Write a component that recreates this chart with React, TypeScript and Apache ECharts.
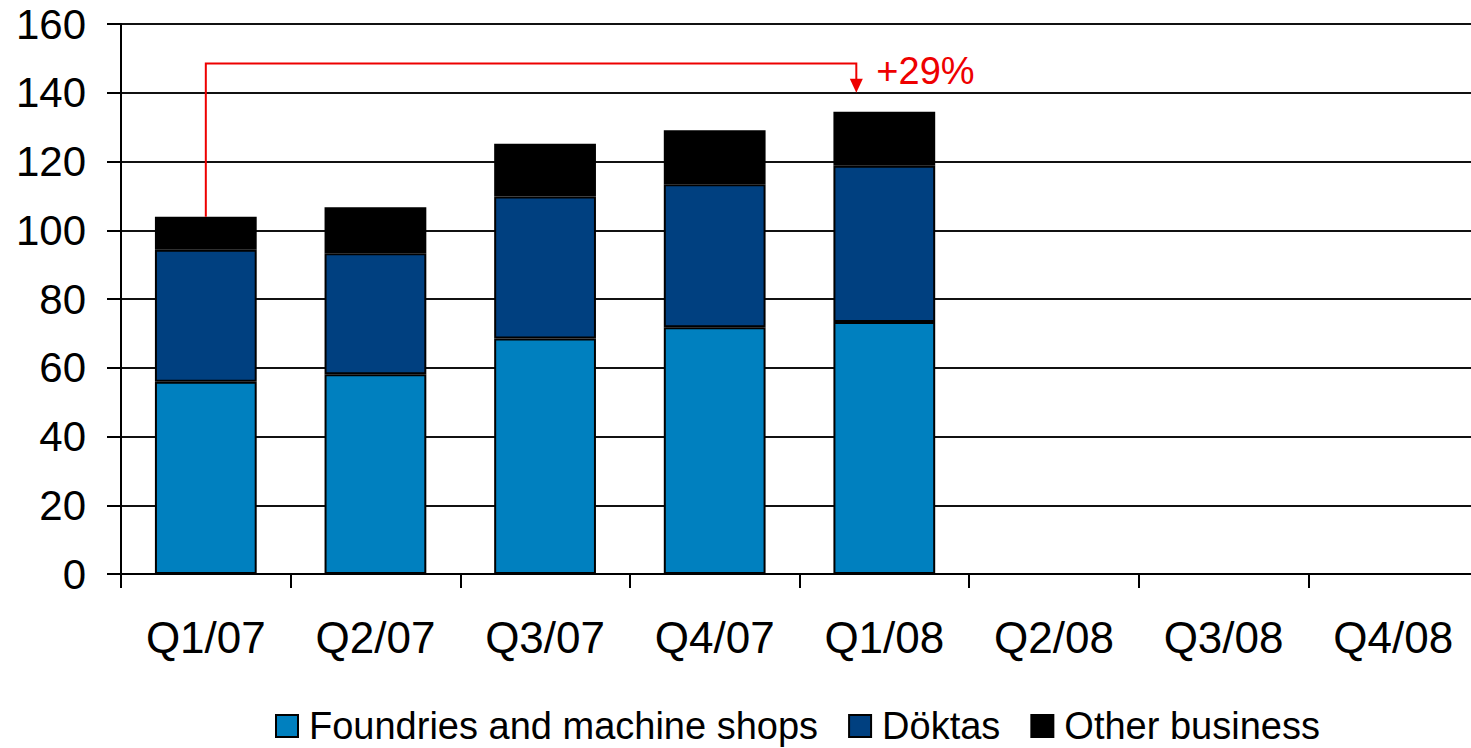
import React, { useEffect, useRef } from "react";
import * as echarts from "echarts";

const categories = ["Q1/07", "Q2/07", "Q3/07", "Q4/07", "Q1/08", "Q2/08", "Q3/08", "Q4/08"];
const foundries = [55.9, 58.1, 68.5, 71.8, 73.3, null, null, null];
const doktas = [38.4, 35.2, 41.3, 41.6, 45.5, null, null, null];
const other = [9.6, 13.4, 15.4, 15.7, 15.7, null, null, null];
const seriesNames = ["Foundries and machine shops", "Döktas", "Other business"];
const seriesColors = ["#0080BF", "#004080", "#000000"];
const yTicks = { min: 0, max: 160, interval: 20 };
const compareFrom = 0;
const compareTo = 4;
const bracketLevel = 148.5;
const arrowTipValue = 140;

const FONT = "'Liberation Sans', Arial, sans-serif";

export default function App() {
  const ref = useRef<HTMLDivElement>(null);
  useEffect(() => {
    if (!ref.current) return;
    const chart = echarts.init(ref.current, null, { renderer: "svg" });
    const data = [foundries, doktas, other];
    chart.setOption({
      animation: false,
      backgroundColor: "#ffffff",
      textStyle: { fontFamily: FONT },
      grid: { left: 121, right: 2, top: 24, bottom: 174, containLabel: false },
      legend: {
        left: 270,
        top: 702,
        itemWidth: 22,
        itemHeight: 22,
        itemGap: 30,
        icon: "rect",
        textStyle: { fontSize: 38, color: "#000", fontFamily: FONT, padding: [0, 0, 0, 6] },
        data: seriesNames,
      },
      xAxis: {
        type: "category",
        data: categories,
        axisLine: { show: true, lineStyle: { color: "#000", width: 2 } },
        axisTick: { show: true, length: 14, lineStyle: { color: "#000", width: 2 } },
        axisLabel: { color: "#000", fontSize: 44, margin: 41, fontFamily: FONT, interval: 0 },
        splitLine: { show: false },
      },
      yAxis: {
        type: "value",
        min: yTicks.min,
        max: yTicks.max,
        interval: yTicks.interval,
        axisLine: { show: true, lineStyle: { color: "#000", width: 2 } },
        axisTick: { show: true, length: 14, lineStyle: { color: "#000", width: 2 } },
        axisLabel: { color: "#000", fontSize: 42, margin: 35, fontFamily: FONT },
        splitLine: { show: true, lineStyle: { color: "#111", width: 2 } },
      },
      series: seriesNames.map((name, i) => ({
        name,
        type: "bar",
        stack: "total",
        barWidth: "60%",
        data: data[i],
        itemStyle: { color: seriesColors[i], borderColor: "#000", borderWidth: 2 },
      })),
    });

    const totalAt = (k: number) =>
      (foundries[k] || 0) + (doktas[k] || 0) + (other[k] || 0);
    const t0 = totalAt(compareFrom);
    const t1 = totalAt(compareTo);
    const growth = Math.round((t1 / t0 - 1) * 100);
    const pStart = chart.convertToPixel({ gridIndex: 0 }, [categories[compareFrom], t0]) as number[];
    const pLevelL = chart.convertToPixel({ gridIndex: 0 }, [categories[compareFrom], bracketLevel]) as number[];
    const pEnd = chart.convertToPixel({ gridIndex: 0 }, [categories[compareTo], arrowTipValue]) as number[];
    const x1 = pStart[0];
    const x2 = pEnd[0] - 28;
    const yL = pLevelL[1];
    const yTip = pEnd[1];
    const red = "#EE0000";
    chart.setOption({
      graphic: [
        {
          type: "polyline",
          shape: { points: [[x1, pStart[1]], [x1, yL], [x2, yL], [x2, yTip - 12]] },
          style: { stroke: red, lineWidth: 2, fill: null },
          z: 100,
        },
        {
          type: "polygon",
          shape: { points: [[x2 - 6.5, yTip - 14], [x2 + 6.5, yTip - 14], [x2, yTip]] },
          style: { fill: red },
          z: 100,
        },
        {
          type: "text",
          x: x2 + 20,
          y: yL + 7,
          style: {
            text: (growth >= 0 ? "+" : "") + growth + "%",
            fill: red,
            font: "38px " + FONT,
            textVerticalAlign: "middle",
            verticalAlign: "middle",
          },
          z: 100,
        },
      ],
    });
    return () => chart.dispose();
  }, []);
  return (
    <div style={{ position: "absolute", left: 0, top: 0, width: 1471, height: 748, overflow: "hidden" }}>
      <div ref={ref} style={{ width: 1480, height: 748 }} />
    </div>
  );
}
